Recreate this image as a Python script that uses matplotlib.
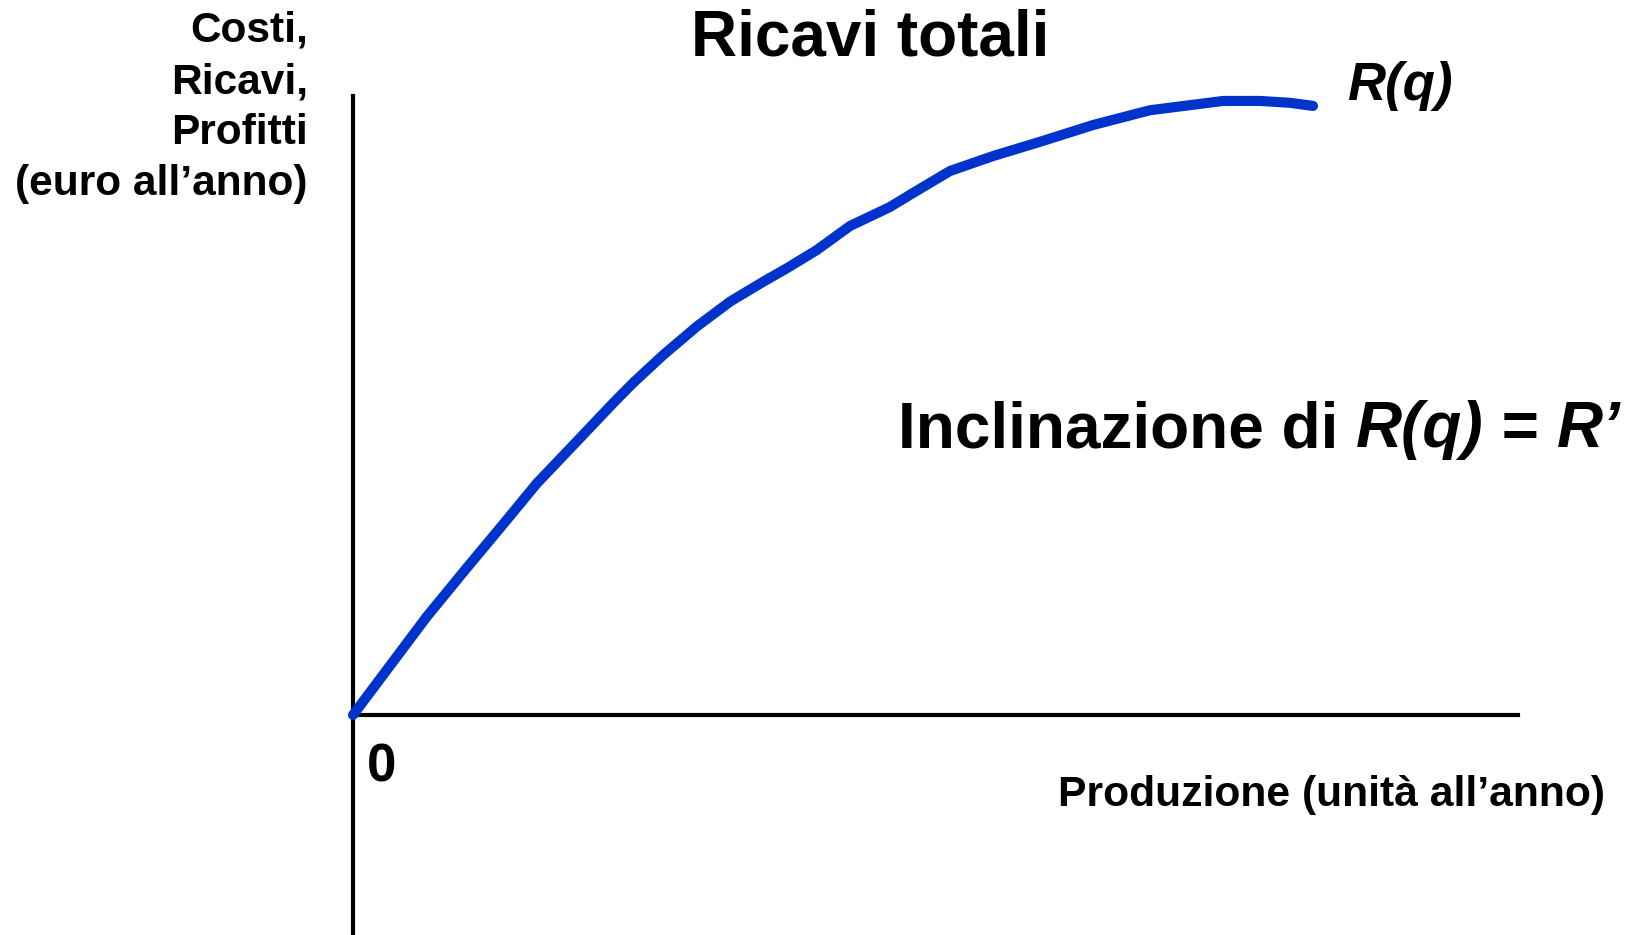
import matplotlib
matplotlib.use("Agg")
import matplotlib.pyplot as plt

# Data (arbitrary units: q in 0..100, R in 0..100)
q_values = [0, 6.33, 9.76, 13.19, 15.77, 18.91, 22.34, 24.06, 26.63, 29.49,
            32.36, 35.22, 37.23, 39.80, 42.66, 46.09, 48.07, 51.24, 54.94, 58.97,
            63.52, 68.41, 74.68, 77.85, 80.43, 82.40]
r_values = [0, 15.88, 23.75, 31.5, 37.4, 43.6, 50.4, 53.68, 58.16, 62.73,
            66.77, 70.0, 72.16, 75.1, 79.0, 82.07, 84.33, 87.88, 90.3, 92.6,
            95.31, 97.7, 99.2, 99.2, 98.9, 98.4]

title = "Ricavi totali"
ylabel_lines = ["Costi,", "Ricavi,", "Profitti", "(euro all\u2019anno)"]
xlabel = "Produzione (unit\u00e0 all\u2019anno)"
curve_label = "R(q)"
zero_label = "0"

W, H = 1633, 935
plt.rcParams['font.family'] = ['Liberation Sans', 'DejaVu Sans']
fig = plt.figure(figsize=(W / 100, H / 100), dpi=100)

x0, x1 = 353, 1518
ytop = 96
ax = fig.add_axes([x0 / W, 0, (x1 - x0) / W, 1 - ytop / H])
ax.set_xlim(0, 100)
yzero_px = 715
ax.set_ylim(-(H - yzero_px) / (yzero_px - ytop) * 100, 100)

for s in ['top', 'right']:
    ax.spines[s].set_visible(False)
ax.spines['left'].set_linewidth(3)
ax.spines['bottom'].set_linewidth(3)
ax.spines['left'].set_position(('data', 0))
ax.spines['bottom'].set_position(('data', 0))
ax.set_xticks([])
ax.set_yticks([])
ax.patch.set_alpha(0)

ax.plot(q_values, r_values, color='#0033CC', lw=7.3, solid_capstyle='round',
        solid_joinstyle='round', clip_on=False, zorder=3)

def fx(px):
    return px / W

def fy(py):
    return 1 - py / H

fig.text(fx(870), fy(38), title, ha='center', va='center', fontsize=46, fontweight='bold')

for i, line in enumerate(ylabel_lines):
    fig.text(fx(308), fy(31 + i * 51), line, ha='right', va='center',
             fontsize=30.5, fontweight='bold')

fig.text(fx(1347), fy(86), curve_label, ha='left', va='center', fontsize=38,
         fontweight='bold', fontstyle='italic')

FS = 46
yy = fy(430)
t = fig.text(fx(898), yy, "Inclinazione di ", ha='left', va='center',
             fontsize=FS, fontweight='bold')
fig.canvas.draw()
bb = t.get_window_extent()
t2 = fig.text(bb.x1 / W, yy, "R(q)", ha='left', va='center', fontsize=FS,
              fontweight='bold', fontstyle='italic')
fig.canvas.draw()
bb2 = t2.get_window_extent()
t3 = fig.text(bb2.x1 / W, yy, " = ", ha='left', va='center', fontsize=FS,
              fontweight='bold')
fig.canvas.draw()
bb3 = t3.get_window_extent()
fig.text(bb3.x1 / W, yy, "R\u2019", ha='left', va='center', fontsize=FS,
         fontweight='bold', fontstyle='italic')

fig.text(fx(367), fy(767), zero_label, ha='left', va='center', fontsize=38, fontweight='bold')
fig.text(fx(1605), fy(795), xlabel, ha='right', va='center', fontsize=30.7,
         fontweight='bold')

fig.savefig("out.png", dpi=100)
